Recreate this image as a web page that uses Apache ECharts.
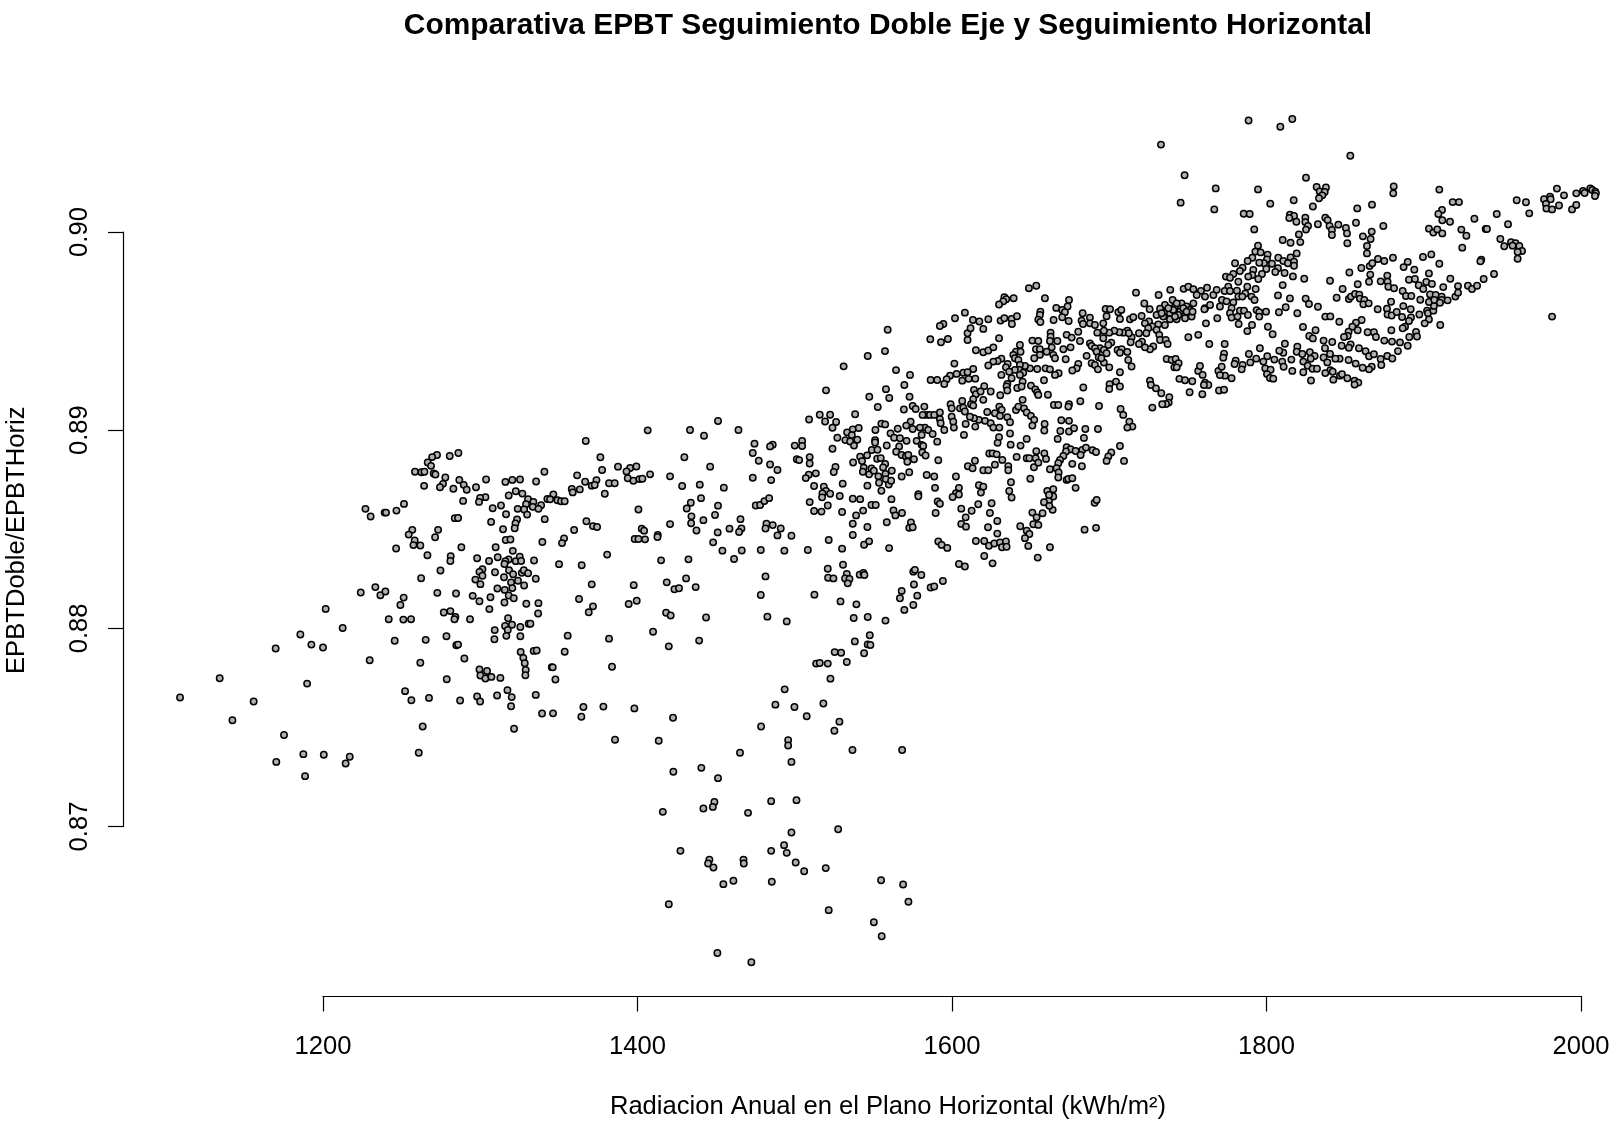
<!DOCTYPE html>
<html><head><meta charset="utf-8">
<style>html,body{margin:0;padding:0;background:#fff}#c{width:1619px;height:1125px}</style>
<script src="https://cdn.jsdelivr.net/npm/echarts@6/dist/echarts.min.js"></script>
</head><body><div id="c"></div>
<script>
const titulo = "Comparativa EPBT Seguimiento Doble Eje y Seguimiento Horizontal";
const etiquetaX = "Radiacion Anual en el Plano Horizontal (kWh/m²)";
const etiquetaY = "EPBTDoble/EPBTHoriz";
const puntosOeste = [[1286.1,.88885],[1280.6,.8887],[1272.5,.88875],[1269.4,.88864],[1266.6,.88837],[1268.7,.8882],[1258.5,.8879],[1262.6,.88788],[1264.5,.8879],[1270.4,.88781],[1271.5,.88776],[1277.8,.88761],[1303.7,.88751],[1286.7,.88749],[1289.5,.88724],[1291.4,.88699],[1276.3,.88729],[1274.4,.88712],[1264.3,.88719],[1282.9,.88704],[1297.3,.88712],[1316,.88739],[1320.4,.88749],[1325.3,.88751],[1335.5,.88741],[1340.8,.8879],[1322.6,.88692],[1326.8,.8868],[1318.1,.8867],[1303.3,.88662],[1299.9,.88658],[1299.2,.88638],[1289.1,.88643],[1330.4,.88652],[1342.7,.88653],[1333.8,.88638],[1329.1,.88626],[1338.7,.88621],[1333.4,.88613],[1337,.88603],[1313.2,.8862],[1307.9,.88606],[1323.8,.88603],[1327.9,.886],[1316.4,.88576],[1329.8,.88574],[1341,.88551],[1283.8,.88556],[1285.9,.88557],[1306.9,.88537],[1323.4,.88549],[1322.4,.88529],[1321.9,.88505],[1314.5,.885],[1251.5,.88628],[1246.7,.88594],[1239.2,.88584],[1240.1,.88584],[1227,.88603],[1230.3,.88564],[1256.8,.88497],[1273.2,.88497],[1254.5,.88473],[1271.3,.8846],[1258.3,.88443],[1257.5,.8842],[1261.9,.88418],[1246.5,.88403],[1288,.88409],[1316.2,.88446],[1319.2,.88448],[1339.5,.88436],[1309.8,.88409],[1320.7,.88391],[1266.4,.88369],[1281.2,.88364],[1281,.8834],[1298,.88354],[1311.1,.88359],[1305.6,.8834],[1318.1,.88347],[1316,.88339],[1315.4,.88325],[1322.6,.88339],[1325.1,.88362],[1326,.8834],[1334.2,.88342],[1301.4,.88298],[1299.5,.88285],[1301.4,.88265],[1296.9,.88246],[1300.1,.88223],[1274.7,.88292],[1262.4,.88253],[1309.4,.88283],[1318.3,.88293],[1320.9,.88273],[1315.1,.88258],[1326.4,.8828],[1327.7,.88293],[1330.4,.88278],[1335.3,.8825],[1319.6,.88231],[1324,.8824],[1320.4,.88203],[1327.9,.88216],[1310.9,.88201],[1315.6,.88194],[1272.7,.88179],[1284.6,.88176],[1295.2,.88164],[1299.5,.88137],[1306.5,.88157],[1318.1,.88166],[1321.3,.88152],[1315.4,.8813],[1329.3,.88124],[1337,.88127],[1305.8,.88097],[1224,.88181],[1233.3,.88208],[1236.5,.88167],[1239.7,.88186],[1251.3,.88155],[1249.2,.88118],[1201.7,.88098],[1212.5,.88002],[1276.8,.8808],[1281,.88087],[1284.2,.88058],[1283.6,.88046],[1293.5,.88046],[1241.8,.88046],[1251.1,.88044],[1256,.88046],[1336.8,.88075],[1317.7,.88051],[1315.8,.88012],[1320.2,.88018],[1317.5,.87992],[1325.5,.88007],[1330.8,.88023],[1331.9,.88023],[1309.2,.87991],[1309,.87945],[1316.6,.87962],[1325.5,.8796],[1185.6,.87969],[1192.6,.87918],[1200,.87903],[1169.9,.87898],[1245.6,.87937],[1265.3,.87942],[1278.5,.8796],[1284.8,.87915],[1285.9,.87918],[1334,.87886],[1335.9,.87888],[1325.7,.87881],[1327.4,.87851],[1328.3,.87824],[1328.9,.8779],[1328.7,.87763],[1229.7,.87839],[1261.9,.87826],[1289.9,.87848],[1345.5,.87804],[1299.5,.87792],[1304.3,.87785],[1300.1,.87762],[1303.3,.87747],[1307.1,.87755],[1312.8,.8775],[1278.7,.87743],[1134.3,.87748],[1189.9,.87721],[1317.3,.87688],[1109.1,.87651],[1155.9,.87631],[1252.2,.87683],[1256.2,.87637],[1267.4,.87649],[1287.2,.87636],[1298,.87656],[1299.9,.87631],[1310.7,.87661],[1320,.87653],[1335.3,.87664],[1319.6,.87607],[1339.3,.8757],[1142.4,.87536],[1175.2,.87462],[1263.4,.87505],[1321.5,.87493],[1187.5,.87365],[1200.5,.87362],[1217,.87352],[1214.4,.87318],[1170.3,.87326],[1260.9,.87372],[1188.6,.87254]];
const puntosCentro = [[1367.1,.88945],[1406.5,.88999],[1433.4,.89001],[1442.3,.88972],[1451.2,.89046],[1464.2,.89001],[1376.4,.88863],[1429.8,.88863],[1387.6,.88816],[1377.5,.88799],[1446.2,.88816],[1395.3,.88809],[1399.3,.88817],[1393,.88792],[1393.8,.88757],[1397.4,.88745],[1401.2,.88753],[1403.1,.88755],[1408,.88777],[1420.7,.88767],[1361.6,.88772],[1366.7,.8874],[1373.9,.88748],[1370.9,.8872],[1372.8,.88723],[1381.9,.88732],[1385.5,.88732],[1379.2,.88679],[1358.2,.88703],[1358.8,.88686],[1363.3,.88701],[1346.5,.88676],[1344.4,.88651],[1349.1,.88646],[1351.4,.88641],[1353.7,.88641],[1428.4,.88718],[1439.6,.88725],[1454.9,.8871],[1440.4,.88657],[1433.9,.88634],[1431.3,.88605],[1451.2,.88619],[1400.6,.886],[1449.3,.88572],[1434.3,.88565],[1441.9,.88546],[1434.1,.8853],[1420.7,.88526],[1367.5,.8854],[1371.7,.88516],[1374.3,.88511],[1359.7,.88496],[1402.7,.88503],[1404.2,.88493],[1437.5,.88494],[1353.3,.88454],[1352,.8843],[1398.2,.88451],[1400.6,.88451],[1404.8,.88449],[1412.9,.88471],[1412.7,.88461],[1451,.88484],[1458.5,.88503],[1466.1,.88504],[1464.6,.88486],[1465.5,.88551],[1448.1,.88434],[1380.7,.88372],[1350.1,.88324],[1364.5,.88318],[1415,.88343],[1432.4,.88348],[1454,.88392],[1466.3,.88393],[1461.4,.8835],[1478.4,.88395],[1493.4,.88392],[1508.3,.88395],[1370.9,.88222],[1397.6,.88218],[1418.6,.88232],[1430.9,.88252],[1423.5,.88197],[1426.4,.88202],[1437,.88208],[1481.4,.88262],[1478.4,.88168],[1362.8,.88148],[1371.7,.88111],[1369,.88081],[1394.4,.88123],[1399.5,.88139],[1418.2,.88079],[1421.1,.88065],[1443.6,.88055],[1482.6,.88059],[1494.9,.88035],[1409.9,.87983],[1355.6,.87963],[1381.9,.87948],[1439.2,.87938],[1419.9,.87909],[1353.7,.87882],[1346.1,.87803],[1383.8,.87806],[1347.8,.87742],[1365.6,.87603],[1378.3,.87605],[1398,.87596],[1364.3,.87554],[1346.3,.87571],[1422.6,.87549],[1385.7,.87438],[1413.5,.87433],[1465.2,.87372],[1495.8,.87436],[1495.8,.87409],[1478.6,.87505],[1487.7,.87615],[1499.8,.87603],[1507.6,.87556],[1518.2,.87621],[1493.6,.87692],[1525.2,.87483],[1528.4,.87529],[1536.7,.87386],[1568.3,.87386],[1522.7,.87746],[1513.6,.87822],[1515.9,.87825],[1521,.87822],[1533.1,.8783],[1525.4,.8788],[1529.5,.87877],[1544.1,.87874],[1538.2,.87934],[1546.4,.87919],[1548.1,.87916],[1547.7,.87965],[1537.5,.88052],[1546.4,.88057],[1557.7,.88039],[1539.2,.88121],[1529.1,.88136],[1512.5,.8817],[1521,.88301],[1530.7,.88321],[1521.2,.88255],[1524.6,.88252],[1533.1,.88274],[1532,.88252],[1534.8,.88249],[1533.7,.88227],[1541.3,.88271],[1543.7,.88279],[1544.3,.88269],[1474.4,.88932],[1486,.88927],[1484.3,.88918],[1473.3,.88885],[1477.1,.88846],[1484.3,.88827],[1489,.88799],[1473.3,.8876],[1485,.88748],[1475.2,.8862],[1478,.88622],[1480.7,.88642],[1483.7,.88657],[1482,.88528],[1486,.88521],[1481.4,.88504],[1491.1,.88504],[1489,.88469],[1497.9,.88467],[1509.1,.89054],[1515.9,.89078],[1522.5,.89078],[1519.3,.89044],[1526.3,.89041],[1524,.89012],[1527.1,.88962],[1524,.88906],[1500,.88922],[1504.7,.88945],[1504.7,.8892],[1501.3,.88853],[1502.8,.88849],[1509.5,.88864],[1509.5,.88832],[1508.9,.88775],[1507,.88758],[1513.4,.88782],[1512.3,.88718],[1525.9,.88814],[1524.8,.88789],[1530.5,.8873],[1518.5,.88715],[1519.9,.88693],[1522.5,.88679],[1517.6,.88681],[1517.4,.88661],[1528.6,.88668],[1509.5,.88637],[1521,.8862],[1512.3,.88592],[1517,.88589],[1530.1,.88587],[1536.9,.88654],[1541.6,.88652],[1548.8,.88622],[1551.5,.88622],[1543.5,.88594],[1539,.8857],[1536.9,.88528],[1546.2,.88511],[1536.9,.88471],[1521.6,.88446],[1530.1,.88402],[1544.1,.88422],[1547.3,.88439],[1560,.88405],[1558.5,.88535],[1562.8,.88595],[1564,.8857],[1561.5,.88652],[1555.1,.88694],[1546.2,.8872],[1559.8,.88726],[1533.3,.88989],[1536.9,.89004],[1540.7,.89011],[1536.3,.88975],[1532.2,.8895],[1535.2,.88943],[1539.8,.88952],[1537.7,.88922],[1538.4,.8908],[1552.8,.89117],[1537.1,.88837],[1541.6,.88866],[1546,.88873],[1542.8,.88844],[1549,.889],[1552.6,.88901],[1551.1,.8895],[1551.1,.88938],[1558.5,.88923],[1551.3,.89001],[1555.1,.89033],[1557.5,.89029],[1560.9,.88984],[1565.5,.89007],[1563.2,.88962],[1566.4,.88918],[1564.5,.88891],[1552.4,.88856],[1554.7,.88859],[1557.5,.88829],[1556.2,.88812],[1543.9,.88811],[1543.3,.8879],[1547.3,.88777],[1548.8,.88807],[1550.3,.88795],[1553.2,.88767],[1553.6,.88735],[1557.7,.88779],[1557.9,.88753],[1561.7,.88795],[1561.3,.88745]];
const puntosAislados = [[1559.1,.89507],[1557.4,.89399],[1546.4,.89374],[1531.1,.89322],[1564.4,.89303],[1519.9,.89201],[1547.4,.89169],[1558,.89207],[1560.1,.89162],[1732.9,.90441],[1747.9,.90286],[1767.7,.9022],[1745.4,.90148],[1766.8,.90114]];
const puntosDensos = [[1653.6,.89729],[1648.9,.89716],[1633.3,.89671],[1639.2,.89666],[1634.5,.89661],[1632.6,.8965],[1629.9,.89634],[1659.1,.89666],[1674.4,.89657],[1673.5,.89624],[1666.3,.89617],[1670.1,.89607],[1671.8,.89595],[1656.2,.89598],[1655.9,.89581],[1654.9,.89558],[1656.2,.89546],[1664.6,.89556],[1670.1,.8957],[1674.2,.89551],[1683.1,.8959],[1687.7,.89568],[1682.4,.89553],[1683.3,.89536],[1687.7,.89539],[1690.9,.89531],[1696.2,.89539],[1697.7,.89612],[1700.5,.8961],[1705.8,.89595],[1707.7,.89607],[1698.3,.89575],[1706.8,.89561],[1713.2,.8956],[1715.3,.8957],[1720.6,.89576],[1725.3,.89548],[1722.3,.89639],[1725.7,.8961],[1717,.89694],[1731.4,.89682],[1738.8,.89708],[1747.3,.89713],[1750.3,.89724],[1753.5,.89711],[1758.3,.89703],[1762.2,.89719],[1740.3,.89657],[1735.4,.89632],[1732.3,.89613],[1736.5,.89598],[1730.1,.89581],[1734.4,.89573],[1738.6,.8959],[1741.8,.89624],[1746,.8964],[1749.2,.89624],[1753.5,.8964],[1755.6,.89682],[1760.9,.89674],[1766.2,.89682],[1745,.89598],[1748.2,.89565],[1752.4,.89573],[1742.9,.8956],[1738.6,.8956],[1735.4,.89531],[1731.2,.89534],[1727.4,.89523],[1722.7,.89539],[1724.8,.89514],[1730.1,.89506],[1731.8,.89481],[1732.3,.89455],[1735.9,.89455],[1737.1,.89435],[1728,.89422],[1725.9,.89408],[1722.7,.89418],[1720.8,.89447],[1718.9,.89435],[1723.6,.89489],[1718.9,.89489],[1714.2,.89469],[1713.6,.89444],[1711.5,.89502],[1708.9,.89492],[1712.5,.89489],[1706.4,.89494],[1703.2,.89502],[1700,.89492],[1696.6,.89502],[1692.4,.89492],[1696.2,.89464],[1701.3,.89442],[1699.4,.8943],[1694.1,.89413],[1687.7,.89438],[1688.8,.89425],[1690.9,.89413],[1692,.89396],[1696.6,.89405],[1698.3,.89388],[1685.6,.89375],[1693.3,.89368],[1696.6,.89341],[1695,.89363],[1688.8,.89338],[1690.9,.89329],[1692.8,.89307],[1700,.89317],[1706.8,.89292],[1705.3,.89405],[1707.9,.89408],[1706.8,.89391],[1711.5,.89395],[1712.1,.89354],[1714.2,.89321],[1680.3,.89497],[1672.9,.89481],[1676.1,.89467],[1675.4,.89418],[1670.8,.89408],[1681.4,.8945],[1662.7,.89492],[1662.7,.89472],[1662.3,.8945],[1667,.8945],[1663.4,.89418],[1651.1,.89452],[1654.9,.8945],[1643.2,.8943],[1640.7,.89396],[1643.6,.89396],[1639,.8938],[1640,.89363],[1642.2,.89354],[1653.4,.89408],[1655.9,.89408],[1660.2,.89396],[1664.4,.8938],[1665.5,.89363],[1655.9,.8938],[1652.3,.89363],[1672.3,.89358],[1680.3,.89334],[1679.3,.89312],[1676.5,.89301],[1667.8,.89287],[1665.5,.89279],[1659.5,.89312],[1662.3,.89307],[1654.2,.89309],[1649.6,.89312],[1646.4,.89324],[1643.2,.89329],[1642.8,.89304],[1640,.89304],[1635.4,.89334],[1634.3,.89317],[1636.4,.89295],[1631.4,.89279],[1637.9,.89262],[1645.3,.8929],[1643.2,.89279],[1631.4,.89361],[1629,.89349],[1626.3,.89346],[1623.1,.89326],[1615.2,.89403],[1619.9,.89393],[1623.1,.89402],[1626.3,.89418],[1629.9,.89464],[1609.9,.89455],[1609.9,.89489],[1611.8,.89514],[1613.3,.89556],[1617.4,.89548],[1623.1,.8956],[1619.9,.89511],[1601.9,.89565],[1608.2,.89593],[1594.5,.89536],[1592.3,.89526],[1597.4,.8946],[1593,.89444],[1586.2,.89459],[1630.9,.89553],[1633.3,.89565],[1637.9,.89561],[1641.3,.89575],[1638.1,.89536],[1601.5,.89336],[1613.5,.89309],[1607.2,.8929],[1609.9,.89292],[1602.9,.89284],[1598.7,.89275],[1596.6,.89257],[1595.1,.89233],[1590.6,.89253],[1586.4,.89253],[1606.5,.8925],[1610.6,.89259],[1614.8,.8926],[1573.3,.89279],[1569.7,.89228],[1573,.89169],[1658.5,.89252],[1644.9,.89245],[1635.2,.89233],[1634.7,.8922],[1641.5,.89213],[1644.3,.8922],[1650.2,.89225],[1653,.89206],[1654.2,.8919],[1654.9,.89178],[1661,.89179],[1683.5,.89215],[1700.2,.89232],[1700,.89208],[1704.3,.89245],[1706.8,.8922],[1725.9,.8925],[1726.5,.89228],[1729.7,.89211],[1733.1,.89186],[1738.2,.89166],[1737.8,.89139],[1736.1,.89132],[1733.7,.89131],[1727.4,.89114],[1630.7,.89176],[1635.2,.892],[1624.6,.89195],[1620.5,.89222],[1614,.89203],[1615.2,.89181],[1618.2,.89195],[1613.5,.89156],[1619.9,.89153],[1606.5,.89147],[1599.1,.89131],[1599.8,.8911],[1605.1,.8911],[1607.2,.89114],[1608.2,.89094],[1612.1,.89131],[1613.5,.89124],[1582.4,.89119],[1575,.89122],[1576.9,.89107],[1569.4,.89104],[1583.9,.89077],[1581.3,.89077],[1586,.89077],[1588.7,.89077],[1592.3,.89089],[1592.3,.89055],[1592.8,.89035],[1599.8,.89068],[1600.8,.89043],[1601.2,.89013],[1595.1,.89001],[1582.8,.89013],[1579.6,.89013],[1575,.89006],[1573.7,.89043],[1570.9,.89023],[1584.9,.89001],[1587.7,.88981],[1580.7,.88976],[1608.7,.89031],[1607.6,.88976],[1614.8,.89018],[1617.1,.89052],[1614,.8906],[1611.4,.89068],[1621,.89047],[1624.6,.89035],[1626.3,.89013],[1630.1,.89013],[1630.1,.89119],[1631.6,.89102],[1627.3,.89085],[1622.4,.89092],[1630.5,.89072],[1635.2,.89065],[1636.9,.8904],[1640.7,.89102],[1642.2,.89119],[1645.8,.8911],[1647.5,.89089],[1650.2,.89072],[1652.3,.89052],[1651.1,.89023],[1644.9,.89153],[1664.8,.89127],[1667.6,.89127],[1674.4,.89131],[1674,.89119],[1681.6,.89146],[1693.5,.89122],[1707.2,.89107],[1708.9,.89077],[1712.8,.89043],[1714.7,.89018],[1711.5,.89013],[1669.5,.8905],[1674.4,.89047],[1658.9,.89031],[1658.7,.88998],[1668.9,.88996],[1674.4,.88993],[1677.6,.8901],[1684.8,.89006],[1692.8,.89006],[1683.9,.88961],[1667.2,.88956],[1636.9,.88983],[1629.9,.88964],[1629,.88936],[1637.3,.88927],[1643.6,.88922],[1647.5,.88956],[1706.8,.8892],[1672.9,.88914],[1675.4,.88904],[1678.6,.88895],[1682.9,.889],[1685.2,.88912],[1689.4,.88899],[1691.6,.8889],[1701.3,.88887],[1699.4,.88867],[1698.3,.88845],[1709.4,.88845],[1681.8,.88875],[1672.5,.88892],[1670.8,.8887],[1668.7,.8885],[1667.6,.88833],[1658.7,.88883],[1659.8,.88855],[1653.6,.88894],[1647.5,.88858],[1649.2,.88858],[1653.2,.88858],[1641.1,.88865],[1632,.8885],[1623.7,.88882],[1625.8,.88883],[1628.4,.88878],[1614.6,.88846],[1610.1,.88818],[1613.1,.88808],[1619.9,.88798],[1623.1,.88798],[1627.3,.88826],[1635.8,.88818],[1635.8,.88798],[1652.1,.88813],[1654.9,.88836],[1662.3,.88803],[1666.5,.88808],[1667.8,.88786],[1667.6,.88761],[1676.5,.8883],[1682.6,.88818],[1672.9,.88749],[1674,.88754],[1676.5,.88757],[1678.6,.88709],[1649.8,.88755],[1637.5,.88737],[1636.4,.88693],[1637.9,.8866],[1602.5,.88766],[1583.9,.88774],[1588.7,.88766],[1589.2,.88709],[1604.4,.88709],[1602.5,.88682],[1604.4,.88675],[1600.4,.88663],[1617.1,.88722],[1619.9,.88715],[1618.4,.88685],[1578.6,.88677],[1578.6,.88666],[1590.9,.8864],[1592.3,.88629],[1616.7,.88626],[1625.2,.88631],[1605.9,.88604],[1612.5,.88593],[1624.1,.88582],[1589.6,.88582],[1568.2,.88582],[1608.7,.8856],[1628.8,.88542],[1605.9,.88527],[1608.9,.88513],[1573.9,.88534],[1572.8,.88507],[1575,.8851],[1622.9,.8851],[1628.8,.88478],[1643.4,.88515],[1651.7,.88525],[1654.9,.88522],[1651.1,.88584],[1653.8,.8856],[1657.6,.88581],[1661.7,.88645],[1658.5,.88636],[1664.4,.88665],[1660.6,.88693],[1664.4,.88702],[1661.7,.88673],[1664,.88598],[1661.9,.88618],[1647.5,.88493],[1649.2,.88476],[1646.4,.88455],[1648.5,.88416],[1662.3,.88409],[1654.5,.88357],[1684.3,.88498],[1691.6,.88507],[1690.7,.88634],[1692,.88648],[1615.2,.88441],[1620.5,.88441],[1623.5,.88417],[1626.9,.88428],[1630.5,.88433],[1634.3,.88438],[1631.8,.88409],[1634.7,.88412],[1591.3,.88438],[1593.4,.88421],[1597,.88406],[1620.5,.88365],[1625.8,.88328],[1604.4,.88325],[1608.2,.88312],[1575.4,.88286],[1576.4,.88295],[1580.5,.88269],[1575.8,.88221],[1594.2,.88239],[1586.4,.88206],[1588.7,.88211],[1577.9,.88165],[1575.4,.88118],[1569.7,.88093],[1568,.88189],[1566.9,.88152],[1566.9,.88959],[1571.1,.88946],[1577.5,.88946],[1580.7,.88926],[1581.7,.8892],[1590.6,.88942],[1568,.88875],[1570.7,.88867],[1571.6,.88841],[1575.8,.88853],[1581.1,.88887],[1583.2,.88872],[1591.3,.88848],[1572.8,.88788],[1568,.88766],[1572.2,.88875],[1760.9,.89615],[1764.1,.89632],[1760.5,.8961],[1770.4,.89624],[1768.3,.89708],[1761.5,.89539],[1768.7,.89565],[1756.6,.89481],[1750.3,.89469],[1763.6,.89435],[1742.9,.8964],[1747.1,.89615],[1751.3,.89607],[1740.7,.89607],[1749.2,.89598],[1753,.89598],[1737.6,.89615],[1733.3,.8959],[1743.9,.89581],[1741.8,.89573],[1736.5,.89359],[1739.7,.89354],[1742.2,.89359],[1744.1,.89338],[1741.4,.89317],[1742.9,.89317],[1744.6,.89259],[1748.2,.89252],[1752.8,.89247],[1751.1,.89191],[1759.2,.89181],[1756.6,.89299],[1757.7,.89324],[1759.4,.89279],[1760.9,.8924],[1763,.89228],[1760.2,.89228],[1769.8,.892],[1769.4,.89299]];
const puntosEste = [[1788.6,.90563],[1808.8,.90531],[1816.4,.9057],[1853.3,.90385],[1825.1,.90274],[1794.6,.90215],[1831.9,.90227],[1837.8,.90225],[1833.8,.90205],[1837,.90202],[1835.5,.90185],[1833.4,.9017],[1817.3,.9016],[1802.4,.90143],[1829.5,.90129],[1785.5,.90092],[1789.3,.90091],[1814.9,.90087],[1817.5,.90081],[1814.5,.90071],[1819,.90052],[1824.7,.90072],[1824.7,.9005],[1826.4,.9003],[1825.1,.90012],[1792.2,.90013],[1820.6,.89988],[1832.7,.90039],[1837.4,.90072],[1838.9,.9006],[1840.1,.9003],[1841.6,.9001],[1841.6,.89985],[1845.7,.90037],[1850.5,.9002],[1851.2,.89993],[1856.9,.90047],[1857.7,.90119],[1867.1,.90138],[1880.9,.9023],[1880.6,.90195],[1874.3,.9003],[1866.9,.90002],[1866.2,.89965],[1861.3,.89978],[1851.4,.89943],[1863.9,.89929],[1863.9,.89892],[1810.3,.8996],[1815.3,.89946],[1821.5,.89949],[1794.6,.89931],[1792.9,.89901],[1796.3,.89897],[1800.7,.89886],[1791,.8987],[1788,.89854],[1780,.89842],[1819.2,.89892],[1815.3,.89872],[1807.5,.8987],[1810.7,.89854],[1813.6,.89842],[1817.5,.8985],[1817.5,.8983],[1800.3,.89862],[1798.4,.89842],[1795.4,.89845],[1803.5,.8984],[1799.9,.89813],[1807.3,.89817],[1805.6,.89798],[1811.5,.89793],[1816.8,.89776],[1791.6,.89808],[1784.8,.8982],[1783.1,.89803],[1791,.89783],[1797.1,.89788],[1794.8,.89763],[1788.4,.89775],[1778.9,.89788],[1774.2,.89775],[1776.8,.89769],[1782.1,.89749],[1824,.89764],[1810.3,.89732],[1807.3,.8968],[1793.1,.89712],[1787.8,.89724],[1781.2,.89704],[1775.7,.89724],[1773.4,.89702],[1776.8,.89702],[1786.5,.8969],[1782.1,.89674],[1784.6,.89674],[1790.5,.89674],[1792.4,.89657],[1771.7,.89657],[1774.6,.8965],[1778.9,.89645],[1777.8,.89615],[1776.8,.8959],[1777.8,.89568],[1783.1,.89603],[1785.7,.89603],[1788.2,.89581],[1781.6,.89573],[1793.7,.89606],[1795.4,.89595],[1799.7,.89598],[1795.4,.89573],[1807.9,.89595],[1812.2,.8962],[1819.6,.8959],[1814.9,.89665],[1824.9,.89664],[1827,.89637],[1832.7,.89623],[1837.4,.89573],[1840.6,.89574],[1846.3,.89547],[1840.4,.89754],[1848.4,.89712],[1844.6,.89668],[1852.4,.89662],[1853.7,.89674],[1856.3,.89687],[1859,.89684],[1859.4,.89664],[1862.2,.89657],[1861.6,.89635],[1865,.8964],[1870.7,.8961],[1858,.89736],[1865.2,.89749],[1866,.89785],[1852.7,.89796],[1860.3,.89818],[1865.6,.89828],[1867.3,.89842],[1870.9,.89864],[1874.9,.89854],[1880.4,.8987],[1887.2,.89823],[1889.8,.89849],[1894,.8981],[1899.5,.89874],[1904.8,.89887],[1909.9,.8984],[1903.3,.89791],[1876.8,.8978],[1872.6,.89751],[1877,.89749],[1877.5,.89724],[1881.1,.89716],[1886.6,.89702],[1888.7,.89677],[1892.1,.89677],[1890.6,.89759],[1894.4,.89763],[1896.8,.89731],[1899.7,.89712],[1901.6,.89748],[1905.2,.89738],[1912.4,.89722],[1916.9,.89764],[1921.8,.89727],[1928.1,.89729],[1930.7,.89712],[1933.9,.89729],[1938.1,.89763],[1944.7,.89788],[1879.2,.89648],[1876.6,.89613],[1877,.89584],[1879.6,.89579],[1882.8,.89596],[1887,.89626],[1886.2,.89571],[1891.7,.8961],[1891.9,.89569],[1890.6,.89551],[1888.1,.89522],[1886.6,.89514],[1897.2,.89584],[1902.1,.89603],[1902.7,.8959],[1906.1,.89603],[1906.5,.89627],[1903.3,.89647],[1904,.89685],[1907.6,.89682],[1911.4,.89674],[1906.7,.89657],[1911.4,.89657],[1910.3,.89643],[1915.2,.89655],[1920.1,.89674],[1921.8,.89694],[1897.8,.89658],[1903.3,.89559],[1900.6,.89539],[1910.5,.89531],[1860.5,.89556],[1856.9,.89542],[1854.6,.89522],[1858,.89504],[1852.2,.89497],[1851.6,.89475],[1849.3,.8947],[1831.2,.89504],[1827.2,.89475],[1829.5,.89463],[1823.2,.89521],[1800.9,.89522],[1803.9,.89484],[1790.8,.89531],[1787.8,.895],[1782.3,.89536],[1864.3,.89494],[1868.3,.89494],[1869.6,.8947],[1879.4,.89504],[1895.1,.89495],[1895.7,.89473],[1890.8,.8947],[1874.9,.89452],[1879.8,.89447],[1884.9,.89443],[1889.8,.89426],[1883.6,.89399],[1836.3,.89452],[1841.8,.89445],[1811.7,.89436],[1819.6,.89421],[1819.2,.89396],[1822.8,.89384],[1827.6,.89393],[1830.6,.89374],[1828.1,.89361],[1823.4,.89346],[1826.2,.89325],[1829.3,.8931],[1832.1,.8931],[1816.4,.89299],[1823.4,.89292],[1815.8,.89356],[1810.7,.89391],[1808.1,.89401],[1810,.89346],[1810.9,.8932],[1805,.89356],[1800.5,.89373],[1798,.89346],[1795.8,.89413],[1793.5,.89361],[1788.8,.89384],[1789.7,.89342],[1799.2,.89312],[1802.6,.89305],[1800.3,.89283],[1802.2,.89263],[1804.3,.8926],[1784.8,.89329],[1784.2,.89307],[1780.4,.89351],[1779.7,.89334],[1777.8,.89262],[1773.6,.89275],[1771.5,.8932],[1773,.89386],[1772.5,.89366],[1773.4,.89435],[1770.4,.89278],[1773,.89204],[1837.2,.89413],[1847.8,.89426],[1853.5,.89433],[1852.4,.89416],[1858.8,.89413],[1863,.89398],[1865.2,.89373],[1868.3,.89383],[1872.6,.89359],[1876.8,.89374],[1880,.89362],[1873,.89329],[1866.9,.8932],[1861.1,.89315],[1865.2,.89307],[1856.7,.89336],[1852.2,.89354],[1846.5,.89361],[1843.8,.89361],[1836.3,.89367],[1840.4,.89384],[1838.7,.89342],[1840.6,.89302],[1842.1,.89295],[1837.4,.89288],[1846.7,.89275],[1848,.89282],[1851.4,.89262],[1842.5,.89255],[1828.3,.89251],[1856,.8925],[1858.4,.8924],[1856,.8923],[1909.9,.90214],[1918.4,.90151],[1922.4,.90151],[1911.6,.90111],[1909.3,.90091],[1911.8,.90059],[1916.7,.90052],[1932.2,.90067],[1903.3,.90017],[1906.1,.89997],[1908.6,.90013],[1911.8,.89993],[1923.9,.90012],[1927.1,.89981],[1924.5,.89921],[1939.4,.90015],[1940.2,.90015],[1946.4,.90091],[1953.6,.90039],[1948.7,.89965],[1951.2,.89928],[1955.5,.89948],[1958.4,.89944],[1956.5,.89931],[1960.8,.89929],[1962.5,.89904],[1959.7,.89899],[1959.7,.89865],[1936.6,.8986],[1936,.89852],[1959.1,.9016],[1965,.9015],[1967.1,.90094],[1976.5,.90165],[1980.3,.90178],[1980.7,.90165],[1977.7,.90141],[1978,.90118],[1981.6,.90114],[1986,.90134],[1984.7,.90219],[1989.2,.90185],[1997,.90195],[1994.3,.90114],[1997,.90136],[2001.3,.90207],[2002.3,.90197],[2005.9,.9022],[2007.2,.90212],[2009.1,.90203],[2009.5,.90195],[2008.9,.90182],[1981.6,.89573]];
const puntosSur = [[1422.8,.87276],[1440.6,.87296],[1451.2,.87244],[1497.9,.87326],[1416.1,.87074],[1448.9,.87124],[1447.9,.87099],[1441.9,.87091],[1470.3,.87069],[1485,.87128],[1501.1,.87133],[1527.6,.86986],[1497.9,.8697],[1493.2,.86906],[1427.3,.86877],[1485,.86877],[1494.9,.86867],[1445.7,.86832],[1444.9,.86813],[1448.3,.86793],[1467.4,.86833],[1467.6,.86813],[1500.6,.86818],[1506,.86774],[1519.7,.8679],[1454.6,.86709],[1461,.86726],[1485.4,.86721],[1554.9,.86729],[1568.9,.86707],[1572.3,.8662],[1419.9,.86608],[1521.6,.86578],[1550.3,.86517],[1555.3,.86446],[1450.8,.86362],[1472.4,.86315]];

const chart = echarts.init(document.getElementById('c'), null, {renderer:'canvas'});
const fuente = '"Liberation Sans", Arial, sans-serif';
chart.setOption({
  animation:false,
  backgroundColor:'#fff',
  title:{text:titulo,left:883,top:6,textAlign:'center',textStyle:{fontFamily:fuente,fontWeight:'bold',fontSize:29.9,color:'#000'}},
  grid:{left:323,right:38,top:232,bottom:298.5,containLabel:false,outerBoundsMode:'none'},
  xAxis:{type:'value',min:1200,max:2000,interval:200,offset:169.5,position:'bottom',
    splitLine:{show:false},
    axisLine:{show:true,onZero:false,lineStyle:{color:'#000',width:1.2}},
    axisTick:{show:true,length:15.5,lineStyle:{color:'#000',width:1.2}},
    axisLabel:{margin:38,fontFamily:fuente,fontSize:25.6,color:'#000',formatter:v=>String(v),showMinLabel:true,showMaxLabel:true},
    name:etiquetaX,nameLocation:'middle',nameGap:98,
    nameTextStyle:{fontFamily:fuente,fontSize:25.6,color:'#000',padding:[0,128,0,0]}},
  yAxis:{type:'value',min:0.87,max:0.90,interval:0.01,offset:200,position:'left',
    splitLine:{show:false},
    axisLine:{show:true,onZero:false,lineStyle:{color:'#000',width:1.2}},
    axisTick:{show:true,length:15,lineStyle:{color:'#000',width:1.2}},
    axisLabel:{rotate:90,margin:30,fontFamily:fuente,fontSize:25.6,color:'#000',formatter:v=>v.toFixed(2),showMinLabel:true,showMaxLabel:true},
    name:etiquetaY,nameLocation:'middle',nameGap:93,nameRotate:90,
    nameTextStyle:{fontFamily:fuente,fontSize:25.6,color:'#000',padding:[0,22,0,0]}},
  series:[{type:'scatter',clip:false,silent:true,symbol:'circle',symbolSize:6.4,
    itemStyle:{color:'#b0b0b0',borderColor:'#000',borderWidth:1.5,opacity:1},
    data:[].concat(puntosOeste,puntosCentro,puntosAislados,puntosDensos,puntosEste,puntosSur)}]
});
</script></body></html>
